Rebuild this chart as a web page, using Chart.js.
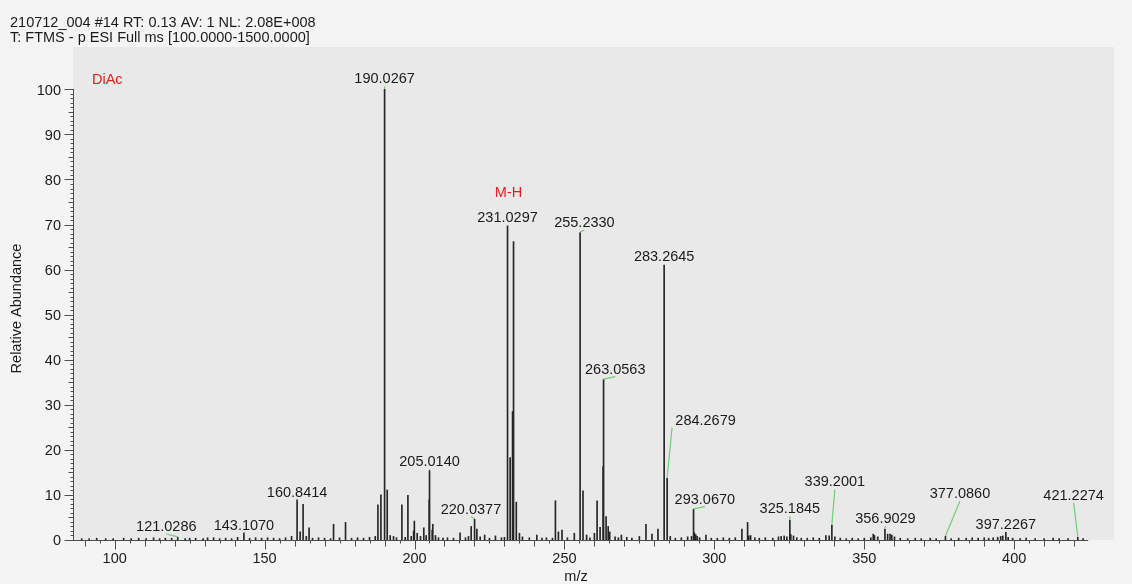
<!DOCTYPE html>
<html>
<head>
<meta charset="utf-8">
<title>210712_004 #14 mass spectrum</title>
<script src="https://cdn.jsdelivr.net/npm/chart.js@4.4.1/dist/chart.umd.min.js"></script>
<style>
  html, body { margin: 0; padding: 0; background: #f4f4f4; overflow: hidden; }
  #wrap { position: relative; width: 1132px; height: 584px; }
</style>
</head>
<body>
<div id="wrap"><canvas id="spectrum"></canvas></div>
<script>
// ---- Scan header and axis titles ----
const headerLines = [
  '210712_004 #14 RT: 0.13 AV: 1 NL: 2.08E+008',
  'T: FTMS - p ESI Full ms [100.0000-1500.0000]'
];
const xAxisTitle = 'm/z';
const yAxisTitle = 'Relative Abundance';
const xTickLabels = [100, 150, 200, 250, 300, 350, 400];
const yTickLabels = [0, 10, 20, 30, 40, 50, 60, 70, 80, 90, 100];

// ---- Centroid peaks: [m/z, relative abundance %] ----
const peaks085to150 = [
  [89.0, 0.3], [91.5, 0.3], [94.0, 0.4], [97.0, 0.3], [99.5, 0.3], [103.0, 0.4],
  [105.5, 0.3], [108.0, 0.4], [110.5, 0.3], [112.98, 0.5], [115.0, 0.3], [116.9, 0.4],
  [119.0, 0.4], [121.0286, 0.6], [123.5, 0.3], [125.0, 0.4], [127.0, 0.4], [129.5, 0.3],
  [131.0, 0.5], [133.0, 0.5], [135.0, 0.3], [137.0, 0.4], [139.0, 0.3], [141.0, 0.6],
  [143.107, 1.6], [145.0, 0.4], [147.0, 0.5], [149.0, 0.4]
];
const peaks150to195 = [
  [151.0, 0.5], [153.0, 0.4], [155.0, 0.3], [157.0, 0.5], [159.0, 0.8], [160.8414, 8.9],
  [161.85, 1.8], [162.84, 7.9], [163.9, 0.8], [164.84, 2.7], [166.0, 0.4], [168.0, 0.5],
  [170.0, 0.4], [172.0, 0.3], [173.0, 3.5], [175.0, 0.5], [177.0, 3.9], [179.0, 0.4],
  [181.0, 0.5], [183.0, 0.4], [185.0, 0.6], [186.9, 0.8], [187.8, 7.8], [188.8, 10.0],
  [190.0267, 100], [190.9, 11.1], [191.9, 1.0], [193.0, 0.8], [194.0, 0.5]
];
const peaks195to215 = [
  [195.8, 7.8], [196.9, 0.6], [197.8, 9.9], [198.9, 0.8], [199.7, 2.0], [199.95, 4.2],
  [200.9, 1.5], [202.0, 0.8], [203.1, 2.7], [203.9, 1.0], [204.9, 8.9], [205.014, 15.4],
  [205.9, 2.2], [206.1, 3.5], [207.0, 1.0], [208.0, 0.5], [209.5, 0.4], [211.0, 0.5],
  [213.0, 0.4]
];
const peaks215to260 = [
  [215.2, 1.6], [217.0, 0.5], [218.0, 0.8], [218.9, 3.0], [220.0377, 4.6], [220.8, 2.4],
  [221.9, 0.7], [223.4, 1.1], [225.0, 0.4], [227.0, 0.9], [229.0, 0.5], [230.0, 0.6],
  [231.0297, 69.7], [231.9, 18.3], [232.7, 28.5], [233.03, 66.2], [233.95, 8.4], [235.0, 1.5],
  [236.0, 0.7], [238.3, 0.5], [240.8, 1.1], [242.5, 0.4], [244.0, 0.5], [246.0, 0.4],
  [247.0, 8.7], [248.0, 1.8], [249.2, 2.2], [251.0, 0.5], [253.3, 1.5], [255.233, 68.2],
  [256.2, 10.9], [257.4, 1.1], [258.5, 0.5]
];
const peaks260to300 = [
  [260.0, 1.5], [260.9, 8.7], [261.9, 2.8], [262.9, 16.3], [263.0563, 35.6], [263.9, 5.2],
  [264.6, 3.0], [265.1, 1.8], [266.9, 0.7], [268.0, 0.5], [269.0, 1.1], [270.8, 0.6],
  [272.5, 0.4], [275.0, 0.8], [277.2, 3.5], [279.2, 1.3], [281.2, 2.4], [283.2645, 61.0],
  [284.2679, 13.7], [285.3, 0.8], [287.0, 0.4], [289.0, 0.5], [291.1, 0.7], [292.4, 0.8],
  [293.067, 6.8], [293.35, 1.6], [293.8, 1.2], [294.3, 0.8], [295.1, 0.5], [297.2, 1.1],
  [299.0, 0.4]
];
const peaks300to350 = [
  [301.0, 0.4], [303.0, 0.5], [305.0, 0.4], [307.0, 0.5], [309.2, 2.4], [311.1, 3.9],
  [311.5, 0.9], [312.1, 1.0], [313.5, 0.5], [315.0, 0.4], [317.0, 0.5], [319.5, 0.4],
  [321.4, 0.7], [322.3, 0.8], [323.3, 0.9], [324.2, 0.7], [325.1845, 4.4], [325.5, 1.2],
  [326.4, 0.9], [327.5, 0.5], [329.0, 0.4], [331.0, 0.4], [333.0, 0.5], [335.0, 0.4],
  [337.2, 1.0], [338.3, 0.9], [339.2001, 3.3], [340.2, 0.7], [342.0, 0.4], [344.0, 0.3],
  [346.0, 0.4], [348.0, 0.3]
];
const peaks350to425 = [
  [350.0, 0.4], [352.2, 0.5], [353.0, 1.3], [353.4, 1.0], [354.5, 0.7], [356.9029, 2.4],
  [357.8, 1.3], [358.6, 1.3], [359.2, 1.1], [360.1, 0.7], [362.0, 0.4], [364.5, 0.3],
  [367.0, 0.4], [369.0, 0.3], [372.0, 0.4], [374.0, 0.3], [377.086, 0.8], [379.0, 0.3],
  [381.5, 0.4], [384.0, 0.4], [386.0, 0.5], [388.0, 0.4], [390.0, 0.5], [391.5, 0.4],
  [393.0, 0.5], [394.5, 0.6], [395.5, 0.8], [396.2, 0.9], [397.2267, 1.7], [398.0, 0.6],
  [399.5, 0.4], [402.0, 0.3], [404.0, 0.4], [407.0, 0.3], [410.0, 0.3], [413.0, 0.4],
  [415.0, 0.3], [418.0, 0.3], [421.2274, 0.6], [423.0, 0.3]
];

// Peaks annotated with their m/z
const labelledPeaks = [
  121.0286, 143.107, 160.8414, 190.0267, 205.014, 220.0377, 231.0297, 255.233, 263.0563,
  283.2645, 284.2679, 293.067, 325.1845, 339.2001, 356.9029, 377.086, 397.2267, 421.2274
];
const sampleTag = 'DiAc';
const ionTag = 'M-H';
const ionTagPeak = 231.0297;

// ---- Appearance ----
const FONT = '14.5px "Liberation Sans", Arial, Helvetica, sans-serif';
const TEXT_COLOR = '#1b1b1b';
const TAG_COLOR = '#e3211d';
const AXIS_COLOR = '#4d4d4d';
const STICK_COLOR = '#262626';
const LEADER_COLOR = '#70cf70';
const PLOT_BG = '#e9e9e9';
const X_AXIS_START = 86.1, X_AXIS_END = 424.7;

// label placement, px: [dx of label centre, dy of baseline from peak top, optional leader end dx]
const labelPlacement = {
  '121.0286': [-11.4, -6.3],
  '143.1070': [0, -2.8],
  '160.8414': [0, -3],
  '190.0267': [0, -6],
  '205.0140': [0, -4.3],
  '220.0377': [-3.6, -5.6],
  '231.0297': [0, -4],
  '255.2330': [4.3, -5.6],
  '263.0563': [11.7, -6],
  '283.2645': [0, -3.7],
  '284.2679': [38.4, -53.6, 4.9],
  '293.0670': [11.3, -5.7],
  '325.1845': [0, -7.2],
  '339.2001': [3, -38.7],
  '356.9029': [0.5, -6.2],
  '377.0860': [14.5, -38.4],
  '397.2267': [0, -3.6],
  '421.2274': [-4.2, -37.6]
};

const allPeaks = [].concat(peaks085to150, peaks150to195, peaks195to215,
  peaks215to260, peaks260to300, peaks300to350, peaks350to425);
const abundanceAt = new Map(allPeaks.map(p => [p[0], p[1]]));

const spectrumDecor = {
  id: 'spectrumDecor',
  beforeDatasetsDraw(chart) {
    const { ctx, chartArea: a } = chart;
    ctx.save();
    ctx.fillStyle = PLOT_BG;
    ctx.fillRect(a.left, a.top, a.right - a.left, a.bottom - a.top);
    ctx.restore();
  },
  afterDatasetsDraw(chart) {
    const { ctx } = chart;
    const xs = chart.scales.x, ys = chart.scales.y;
    const crisp = v => Math.round(v) + 0.5;
    const y0 = crisp(ys.getPixelForValue(0));
    const xAxisLeft = crisp(xs.getPixelForValue(X_AXIS_START));
    const xAxisRight = xs.getPixelForValue(X_AXIS_END);
    ctx.save();

    // axis lines
    ctx.strokeStyle = AXIS_COLOR;
    ctx.lineWidth = 1;
    ctx.beginPath();
    ctx.moveTo(xAxisLeft, y0);
    ctx.lineTo(xAxisRight, y0);
    ctx.moveTo(xAxisLeft, y0);
    ctx.lineTo(xAxisLeft, ys.getPixelForValue(100) - 0.5);
    ctx.stroke();

    // x ticks: major every 50, medium every 10, minor every 5
    ctx.beginPath();
    for (let v = 90; v <= 420; v += 5) {
      const len = v % 50 === 0 ? 9 : (v % 10 === 0 ? 6 : 3);
      const px = crisp(xs.getPixelForValue(v));
      ctx.moveTo(px, y0);
      ctx.lineTo(px, y0 + len);
    }
    // y ticks: major every 10, medium every 5, minor every 1
    for (let v = 0; v <= 100; v += 1) {
      const len = v % 10 === 0 ? 9 : (v % 5 === 0 ? 5 : 3);
      const py = crisp(ys.getPixelForValue(v));
      ctx.moveTo(xAxisLeft, py);
      ctx.lineTo(xAxisLeft - len, py);
    }
    ctx.stroke();

    ctx.font = FONT;
    ctx.fillStyle = TEXT_COLOR;
    ctx.textBaseline = 'alphabetic';

    // tick labels
    ctx.textAlign = 'center';
    xTickLabels.forEach(v => ctx.fillText(String(v), xs.getPixelForValue(v), y0 + 22));
    ctx.textAlign = 'right';
    yTickLabels.forEach(v => ctx.fillText(String(v), xAxisLeft - 12.5, ys.getPixelForValue(v) + 5.2));

    // axis titles
    ctx.textAlign = 'center';
    ctx.fillText(xAxisTitle, 576, 581);
    ctx.save();
    ctx.translate(21.3, 308.5);
    ctx.rotate(-Math.PI / 2);
    ctx.fillText(yAxisTitle, 0, 0);
    ctx.restore();

    // scan header
    ctx.textAlign = 'left';
    ctx.fillText(headerLines[0], 10, 26.5);
    ctx.fillText(headerLines[1], 10, 42);

    // peak labels with leader lines
    labelledPeaks.forEach(mz => {
      const key = mz.toFixed(4);
      const [dx, dy, ldx] = labelPlacement[key];
      const px = xs.getPixelForValue(mz);
      const top = ys.getPixelForValue(abundanceAt.get(mz));
      const lx = px + dx, ly = top + dy;
      ctx.strokeStyle = LEADER_COLOR;
      ctx.lineWidth = 1.2;
      ctx.beginPath();
      ctx.moveTo(px, top - 0.5);
      ctx.lineTo(px + (ldx === undefined ? dx : ldx), ly + 3);
      ctx.stroke();
      ctx.fillStyle = TEXT_COLOR;
      ctx.textAlign = 'center';
      ctx.fillText(key, lx, ly);
      if (mz === ionTagPeak) {
        ctx.fillStyle = TAG_COLOR;
        ctx.fillText(ionTag, lx + 1, ly - 25);
      }
    });

    // sample tag
    ctx.fillStyle = TAG_COLOR;
    ctx.textAlign = 'left';
    ctx.fillText(sampleTag, 92, 84.3);
    ctx.restore();
  }
};

new Chart(document.getElementById('spectrum'), {
  type: 'bar',
  data: {
    datasets: [{
      data: allPeaks.map(p => ({ x: p[0], y: p[1] })),
      backgroundColor: STICK_COLOR,
      borderWidth: 0,
      barThickness: 1
    }]
  },
  options: {
    responsive: true,
    maintainAspectRatio: false,
    animation: false,
    devicePixelRatio: 1,
    layout: { padding: { left: 73, top: 47, right: 18, bottom: 44 } },
    scales: {
      x: { type: 'linear', min: 86.1, max: 433.3, offset: false, display: false },
      y: { type: 'linear', min: 0, max: 109.4, display: false }
    },
    plugins: { legend: { display: false }, tooltip: { enabled: false } }
  },
  plugins: [spectrumDecor]
});
</script>
</body>
</html>
